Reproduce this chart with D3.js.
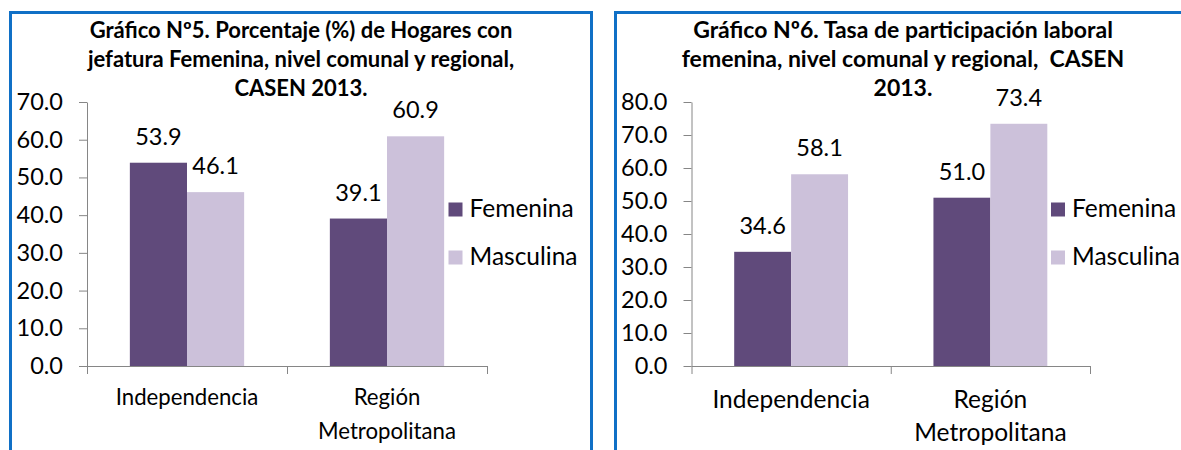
<!DOCTYPE html>
<html>
<head>
<meta charset="utf-8">
<script src="https://cdn.jsdelivr.net/npm/d3@7"></script>
<style>
  body { margin: 0; background: #fff; }
  svg { display: block; font-family: Lato, "Open Sans", sans-serif; }
  .title { font-weight: bold; white-space: pre; }
</style>
</head>
<body>
<svg id="chart" width="1181" height="450"></svg>
<script>
// categories and series
var categories = [["Independencia"], ["Región", "Metropolitana"]];
var seriesNames = ["Femenina", "Masculina"];
var seriesColors = ["#604a7b", "#ccc1da"];

// Gráfico 5: hogares con jefatura
var hogaresFemenina = [53.9, 39.1];
var hogaresMasculina = [46.1, 60.9];
var hogaresTicks = [0, 10, 20, 30, 40, 50, 60, 70];
var hogaresTitle = ["Gráfico Nº5. Porcentaje (%) de Hogares con",
                    "jefatura Femenina, nivel comunal y regional,",
                    "CASEN 2013."];

// Gráfico 6: participación laboral
var laboralFemenina = [34.6, 51.0];
var laboralMasculina = [58.1, 73.4];
var laboralTicks = [0, 10, 20, 30, 40, 50, 60, 70, 80];
var laboralTitle = ["Gráfico Nº6. Tasa de participación laboral",
                    "femenina, nivel comunal y regional,  CASEN",
                    "2013."];

var svg = d3.select("#chart");
var fmt = d3.format(".1f");
var plotTop = 102, plotBottom = 366;
var axisColor = "#868686";

function drawChart(cfg) {
    // panel frame
    svg.append("rect")
        .attr("x", cfg.frameX).attr("y", 12.5)
        .attr("width", cfg.frameW).attr("height", 520)
        .attr("fill", "none")
        .attr("stroke", "#1070c6")
        .attr("stroke-width", 3);

    var g = svg.append("g");

    // title
    g.selectAll("text.title")
        .data(cfg.title)
        .enter().append("text")
        .attr("class", "title")
        .attr("x", cfg.titleX)
        .attr("y", function(d, i) { return 38 + i * 29; })
        .attr("text-anchor", "middle")
        .style("font-size", cfg.titleSize + "px")
        .text(function(d) { return d; });

    var x = d3.scaleBand()
        .domain(d3.range(categories.length))
        .range([cfg.left, cfg.right]);
    var xs = d3.scaleBand()
        .domain(seriesNames)
        .range([0, x.bandwidth()])
        .paddingOuter(0.75);
    var y = d3.scaleLinear()
        .domain([0, cfg.max])
        .range([plotBottom, plotTop]);

    var series = [cfg.fem, cfg.mas];

    // bars
    series.forEach(function(vals, s) {
        g.append("g").selectAll("rect")
            .data(vals)
            .enter().append("rect")
            .attr("x", function(d, i) { return x(i) + xs(seriesNames[s]); })
            .attr("y", function(d) { return y(d); })
            .attr("width", xs.bandwidth())
            .attr("height", function(d) { return plotBottom - y(d); })
            .attr("fill", seriesColors[s]);

        g.append("g").selectAll("text")
            .data(vals)
            .enter().append("text")
            .attr("x", function(d, i) { return x(i) + xs(seriesNames[s]) + xs.bandwidth() / 2; })
            .attr("y", function(d) { return y(d) - 18; })
            .attr("text-anchor", "middle")
            .style("font-size", "23.5px")
            .text(function(d) { return fmt(d); });
    });

    // y axis
    var yAxis = g.append("g")
        .attr("transform", "translate(" + cfg.left + ",0)")
        .call(d3.axisLeft(y)
            .tickValues(cfg.ticks)
            .tickFormat(fmt)
            .tickSize(8)
            .tickSizeOuter(0)
            .tickPadding(16));
    yAxis.attr("font-family", null);
    yAxis.selectAll("text").style("font-size", "23.5px").attr("fill", "#000");

    // x axis, ticks between categories
    var xLin = d3.scaleLinear().domain([0, categories.length]).range([cfg.left, cfg.right]);
    g.append("g")
        .attr("transform", "translate(0," + plotBottom + ")")
        .call(d3.axisBottom(xLin)
            .tickValues(d3.range(categories.length + 1))
            .tickFormat("")
            .tickSize(8)
            .tickSizeOuter(0));

    g.selectAll(".domain, .tick line").attr("stroke", axisColor);

    // category labels
    var lab = g.append("g").selectAll("text")
        .data(categories)
        .enter().append("text")
        .attr("text-anchor", "middle")
        .style("font-size", cfg.catSize + "px");
    lab.selectAll("tspan")
        .data(function(d, i) { return d.map(function(t) { return { t: t, i: i }; }); })
        .enter().append("tspan")
        .attr("x", function(d) { return x(d.i) + x.bandwidth() / 2; })
        .attr("y", function(d, j) { return cfg.catY + j * cfg.catLine; })
        .text(function(d) { return d.t; });

    // legend
    var leg = g.append("g").selectAll("g")
        .data(seriesNames)
        .enter().append("g")
        .attr("transform", function(d, i) { return "translate(" + cfg.legendX + "," + (202.5 + i * 48) + ")"; });
    leg.append("rect")
        .attr("width", 14).attr("height", 14)
        .attr("fill", function(d, i) { return seriesColors[i]; });
    leg.append("text")
        .attr("x", 21).attr("y", 14)
        .style("font-size", "24.5px")
        .text(function(d) { return d; });
}

drawChart({
    frameX: 10.5, frameW: 581,
    title: hogaresTitle, titleX: 301, titleSize: 22,
    left: 87, right: 487, max: 70, ticks: hogaresTicks,
    fem: hogaresFemenina, mas: hogaresMasculina,
    catSize: 22.2, catY: 405, catLine: 34,
    legendX: 448.5
});

drawChart({
    frameX: 615.5, frameW: 700,
    title: laboralTitle, titleX: 903, titleSize: 23,
    left: 691.5, right: 1090, max: 80, ticks: laboralTicks,
    fem: laboralFemenina, mas: laboralMasculina,
    catSize: 24.5, catY: 408, catLine: 33,
    legendX: 1051
});
</script>
</body>
</html>
